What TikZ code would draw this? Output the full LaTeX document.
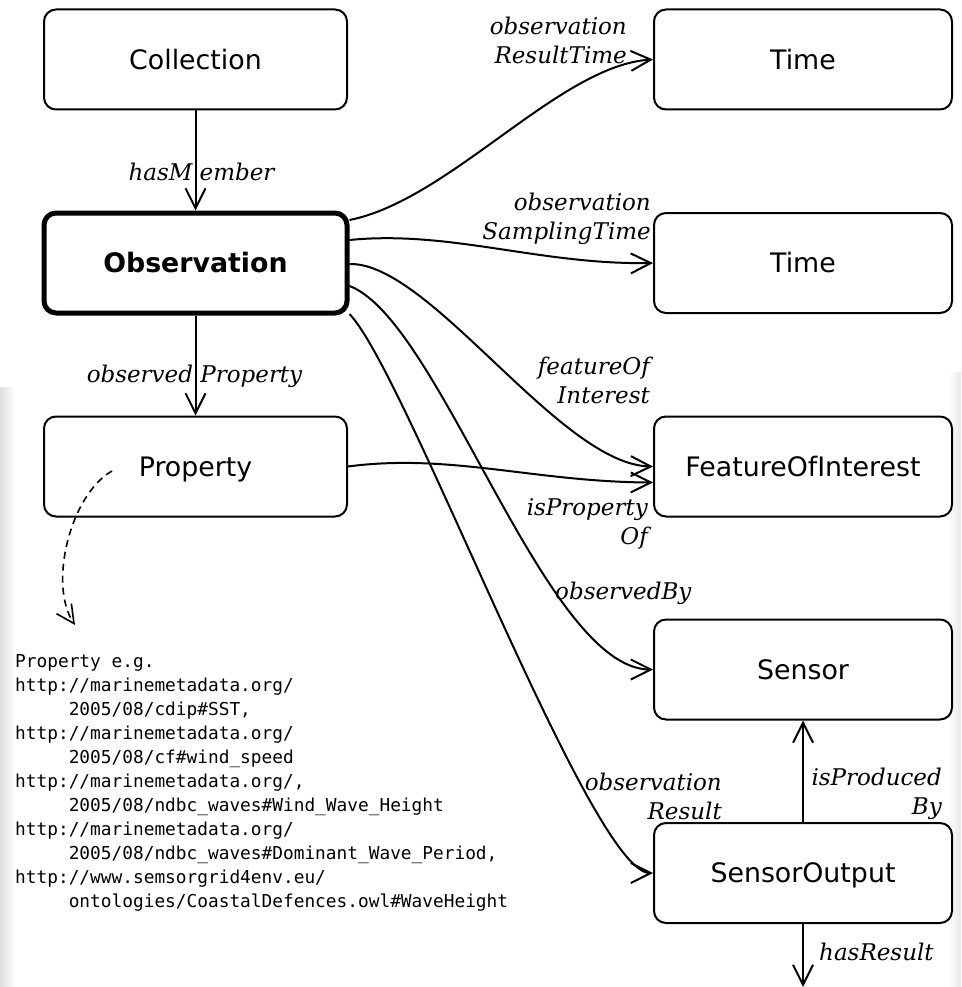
\documentclass[tikz,border=0pt]{standalone}
\usepackage{fontspec}
\setmainfont{DejaVu Sans}
\newfontfamily\lblfont{DejaVu Serif}
\newfontfamily\monofont{DejaVu Sans Mono}
\usetikzlibrary{arrows.meta,calc}
\begin{document}
\begin{tikzpicture}[x=1pt,y=-1pt,
  box/.style={draw, line width=2pt, rounded corners=12pt, minimum height=100pt,
    inner sep=0pt, text height=19.5pt, text depth=0pt,
    font=\fontsize{26.8}{32}\selectfont},
  lbox/.style={box, minimum width=303pt},
  rbox/.style={box, minimum width=298pt},
  edge/.style={line width=2pt, -{Straight Barb[length=20pt,width=20pt]}},
  lbl/.style={font=\lblfont\itshape\fontsize{23}{29}\selectfont, inner sep=0pt},
  note/.style={font=\monofont\fontsize{17.8}{24}\selectfont, inner sep=0pt, align=left},
]
\useasboundingbox (0,0) rectangle (961,987);
\shade[left color=black!13, right color=white] (0,387) rectangle (15,987);
\shade[left color=white, right color=black!10] (949,372) rectangle (961,987);

% nodes
\node[lbox] (coll) at (195.5,59.5) {Collection};
\node[lbox, line width=5pt, font=\fontsize{26.8}{32}\selectfont\bfseries] (obs) at (195.5,263) {Observation};
\node[lbox] (prop) at (195.5,466.5) {Property};
\node[rbox] (t1) at (803,59.5) {Time};
\node[rbox] (t2) at (803,263) {Time};
\node[rbox] (foi) at (803,466.5) {FeatureOfInterest};
\node[rbox] (sen) at (803,669.5) {Sensor};
\node[rbox] (so) at (803,873) {SensorOutput};
\coordinate (res) at (803,987);
\coordinate (dstart) at (112,471);
\coordinate (dend) at (75,625);

% connectors
\draw[edge] (coll.south) -- (obs.north);
\draw[edge] (obs.south) -- (prop.north);
\draw[edge] ($(obs.east)+(0,-43)$) .. controls (450,200) and (560,65) .. (t1.west);
\draw[edge] ($(obs.east)+(0,-23)$) .. controls (450,230) and (540,265) .. (t2.west);
\draw[edge] ($(obs.east)+(0,1)$) .. controls (430,262) and (560,465) .. (foi.west);
\draw[edge] (prop.east) .. controls (450,453) and (535,482) .. ($(foi.west)+(0,16)$);
\draw[edge] ($(obs.east)+(0,23)$) .. controls (440,320) and (545,669.5) .. (sen.west);
\draw[edge] ($(obs.east)+(0,51)$) .. controls (407,374) and (591,873) .. (so.west);
\draw[edge] (so.north) -- (sen.south);
\draw[edge] (so.south) -- (res);
\draw[line width=1.6pt, dash pattern=on 7pt off 5pt, -{Straight Barb[length=18pt,width=18pt]}]
  (dstart) .. controls (70,495) and (48,585) .. (dend);

% labels
\node[lbl, anchor=north] (lhm) at (201.5,163.3) {hasM ember};
\node[lbl, anchor=north] (lop) at (194.5,365) {observed Property};
\node[lbl, anchor=north east, align=right] (lort) at (627,16.7) {observation\\ResultTime};
\node[lbl, anchor=north east, align=right] (lost) at (651,193.3) {observation\\SamplingTime};
\node[lbl, anchor=north east, align=right] (lfoi) at (650,356.7) {featureOf\\Interest};
\node[lbl, anchor=north east, align=right] (lipo) at (648,498.3) {isProperty\\Of};
\node[lbl, anchor=north west] (lob) at (555,581.7) {observedBy};
\node[lbl, anchor=north east, align=right] (lor) at (722,773.3) {observation\\Result};
\node[lbl, anchor=north east, align=right] (lipb) at (942,768.3) {isProduced\\By};
\node[lbl, anchor=north west] (lhr) at (819,943.3) {hasResult};

\node[note, anchor=north west] (txt) at (15,654) {Property e.g.\\
http://marinemetadata.org/\\
\phantom{00000}2005/08/cdip\#SST,\\
http://marinemetadata.org/\\
\phantom{00000}2005/08/cf\#wind\_speed\\
http://marinemetadata.org/,\\
\phantom{00000}2005/08/ndbc\_waves\#Wind\_Wave\_Height\\
http://marinemetadata.org/\\
\phantom{00000}2005/08/ndbc\_waves\#Dominant\_Wave\_Period,\\
http://www.semsorgrid4env.eu/\\
\phantom{00000}ontologies/CoastalDefences.owl\#WaveHeight};
\end{tikzpicture}
\end{document}
